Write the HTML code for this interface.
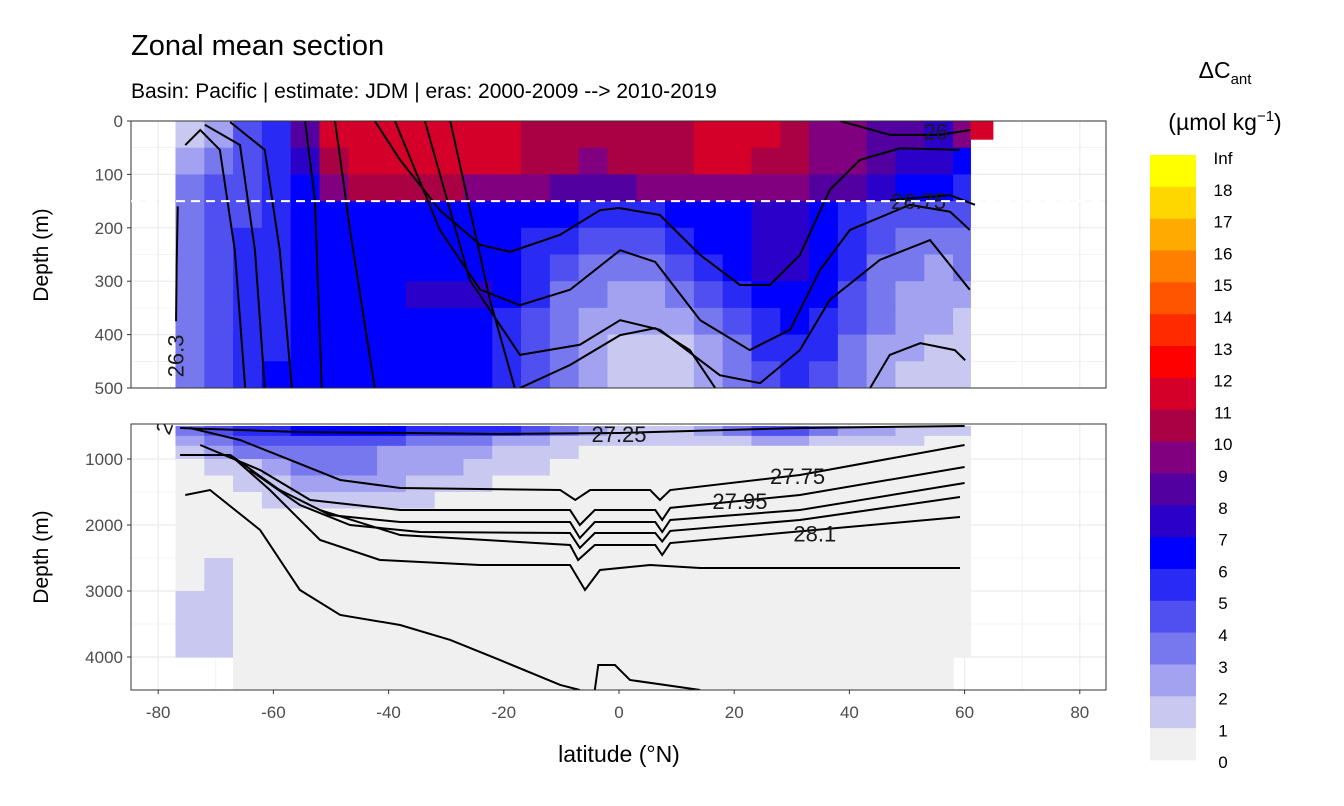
<!DOCTYPE html>
<html><head><meta charset="utf-8"><style>
body{margin:0;background:#fff;}
svg{display:block;font-family:"Liberation Sans",sans-serif;}
</style></head><body>
<svg id="chart" width="1344" height="806">
<text x="131" y="55" font-size="29" fill="#000">Zonal mean section</text>
<text x="131" y="98" font-size="21" fill="#000">Basin: Pacific | estimate: JDM  | eras: 2000-2009 --&gt; 2010-2019</text>
<g id="top"></g>
<g id="bot"></g>
<g id="legend"></g>
<text x="48" y="255" font-size="21" text-anchor="middle" transform="rotate(-90 48 255)">Depth (m)</text>
<text x="48" y="557" font-size="21" text-anchor="middle" transform="rotate(-90 48 557)">Depth (m)</text>
<text x="619" y="762" font-size="23" text-anchor="middle">latitude (°N)</text>
<text x="1225" y="78" font-size="23" text-anchor="middle">ΔC<tspan font-size="15" dy="6">ant</tspan></text>
<text x="1225" y="130" font-size="23" text-anchor="middle">(µmol kg<tspan font-size="15" dy="-9">−1</tspan><tspan dy="9">)</tspan></text>
</svg>
<script>
const latEdges=[-77,-72,-67,-62,-57,-52,-47,-42,-37,-32,-27,-22,-17,-12,-7,-2,3,8,13,18,23,28,33,38,43,48,53,58,61];
const topDepthEdges=[0,50,100,150,200,250,300,350,400,450,500];
const botDepthEdges=[500,650,800,1000,1250,1500,1750,2000,2500,3000,3500,4000,4500];
const topField=[
[1,2,4,5,8,11,11,11,11,11,11,11,10,10,10,10,10,10,11,11,11,10,9,9,8,8,7,9],
[2,3,4,5,7,10,11,11,11,11,11,11,10,10,9,10,10,10,11,11,10,10,9,9,8,7,7,6],
[3,4,4,5,6,9,10,10,10,10,9,9,9,8,8,8,9,9,9,9,9,9,8,8,7,6,6,5],
[3,4,4,5,6,6,6,6,6,6,6,6,6,6,5,5,5,6,6,6,7,7,6,5,4,4,4,4],
[3,4,5,5,6,6,6,6,6,6,6,6,5,5,4,4,4,5,6,6,7,7,6,5,4,3,3,3],
[3,4,5,5,6,6,6,6,6,6,6,6,5,4,3,3,3,4,5,6,7,7,6,5,3,3,2,3],
[3,4,5,5,6,6,6,6,7,7,7,6,5,3,3,2,2,3,4,5,6,6,6,4,3,2,2,2],
[3,4,5,5,6,6,6,6,6,6,6,5,4,3,2,2,2,2,3,4,5,6,5,4,3,2,2,1],
[3,4,5,5,6,6,6,6,6,6,6,5,4,3,2,1,1,1,2,3,5,5,5,3,2,2,1,1],
[3,4,5,6,6,6,6,6,6,6,6,5,4,3,2,1,1,1,2,3,4,5,4,3,2,1,1,1]];
const botField=[
[3,4,5,5,6,6,6,6,5,5,5,5,4,3,2,1,1,1,2,3,4,4,3,2,2,1,1,1],
[2,3,4,4,4,4,4,4,3,3,3,2,2,1,1,1,1,1,1,1,2,2,1,1,1,1,0,0],
[1,2,3,3,3,3,3,2,2,2,2,1,1,1,0,0,0,0,0,0,0,0,0,0,0,0,0,0],
[0,1,1,2,3,3,3,2,2,2,1,1,1,0,0,0,0,0,0,0,0,0,0,0,0,0,0,0],
[0,0,1,1,2,2,2,2,1,1,1,0,0,0,0,0,0,0,0,0,0,0,0,0,0,0,0,0],
[0,0,0,1,1,1,1,1,1,0,0,0,0,0,0,0,0,0,0,0,0,0,0,0,0,0,0,0],
[0,0,0,0,0,0,0,0,0,0,0,0,0,0,0,0,0,0,0,0,0,0,0,0,0,0,0,0],
[0,0,0,0,0,0,0,0,0,0,0,0,0,0,0,0,0,0,0,0,0,0,0,0,0,0,0,0],
[0,1,0,0,0,0,0,0,0,0,0,0,0,0,0,0,0,0,0,0,0,0,0,0,0,0,0,0],
[1,1,0,0,0,0,0,0,0,0,0,0,0,0,0,0,0,0,0,0,0,0,0,0,0,0,0,0],
[1,1,0,0,0,0,0,0,0,0,0,0,0,0,0,0,0,0,0,0,0,0,0,0,0,0,0,0],
[null,null,0,0,0,0,0,0,0,0,0,0,0,0,0,0,0,0,0,0,0,0,0,0,0,0,0,null]];
const binColors=["#f0f0f0","#c8c8f0","#a2a2f0","#7878ee","#5050f0","#2a2af5","#0000ff","#2b00c8","#5200a0","#800080","#aa0044","#d4002a","#ff0000","#ff2a00","#ff5500","#ff8000","#ffaa00","#ffd700","#ffff00"];
const legendLabels=["Inf","18","17","16","15","14","13","12","11","10","9","8","7","6","5","4","3","2","1","0"];
const xTicks=[-80,-60,-40,-20,0,20,40,60,80];
const topYTicks=[0,100,200,300,400,500];
const botYTicks=[1000,2000,3000,4000];
const topContours=[
[[-76.6,160],[-76.8,270],[-76.9,375]],
[[-75.3,45],[-72.7,17],[-69.3,54],[-66.7,242],[-64.9,500]],
[[-71.9,7],[-65.8,45],[-63.2,242],[-61.5,500]],
[[-67.5,2],[-61.5,54],[-58.9,242],[-56.8,500]],
[[-54.5,0],[-52.8,148],[-51.6,500]],
[[-49.3,0],[-46.7,204],[-42.4,500]],
[[-42.4,0],[-38,73],[-31.1,167],[-24.1,232],[-18.9,245],[-10.2,213],[-3.3,167],[0,163],[7.1,176],[14.1,251],[21,307],[26.2,307],[31.4,251],[36.6,129],[41.8,73],[48.8,51],[59.2,54]],
[[-38.9,0],[-31.1,204],[-24.1,316],[-17.2,345],[-8.5,316],[0.2,242],[6.3,264],[14.1,373],[22.7,429],[29.7,391],[34.9,279],[40.1,204],[50.5,157],[57.5,170],[60.9,204]],
[[-33.7,0],[-25.9,298],[-17.2,438],[-6.8,419],[0.2,373],[7.1,391],[17.5,476],[24.5,491],[31.4,429],[36.6,335],[45.3,260],[54,223],[60.9,316]],
[[-29.3,0],[-22.4,335],[-18.1,500]],
[[-17.2,500],[-8.5,457],[0.2,401],[6.3,388],[12.3,429],[16.7,500]],
[[43.6,500],[47,438],[52.3,416],[58.3,429],[60.1,448]],
[[38.4,0],[47,26],[55.7,26],[64.4,11]],
[[47,148],[57.5,139],[61.8,157]]];
const botContours=[
[[-76.2,530],[-55.4,591],[-20.7,621],[0,606],[31.4,530],[60,500]],
[[-74.5,530],[-65.8,712],[-57.1,1015],[-48.4,1318],[-38,1439],[-10.2,1470],[-7.6,1621],[-5,1470],[5.4,1470],[7.1,1621],[8.9,1470],[31.4,1242],[60,788]],
[[-72.7,788],[-62.3,1167],[-53.6,1621],[-38,1773],[-8.5,1773],[-6.8,2000],[-4.2,1773],[6.3,1773],[7.5,1924],[8.9,1740],[31.4,1545],[60,1121]],
[[-67.5,939],[-58.9,1470],[-50.2,1848],[-38,1955],[-8.5,1955],[-6.8,2197],[-4.2,1955],[6.3,1955],[7.5,2106],[8.9,1924],[31.4,1773],[60,1364]],
[[-64.1,1167],[-55.4,1697],[-46.7,2000],[-34.5,2106],[-8.5,2121],[-6.8,2348],[-4.2,2121],[6.3,2121],[7.5,2250],[8.9,2090],[31.4,1924],[59.2,1576]],
[[-51.9,1773],[-38,2152],[-8.5,2303],[-7.1,2530],[-4.2,2303],[6.3,2303],[7.5,2455],[8.9,2273],[59.2,1879]],
[[-76.2,939],[-67.5,939],[-60.6,1470],[-51.9,2227],[-41.5,2530],[-24.1,2606],[-8.5,2606],[-5.9,2985],[-3.3,2682],[5.4,2606],[14.1,2652],[59.2,2652]],
[[-75.3,1545],[-71,1470],[-62.3,2076],[-55.4,2985],[-48.4,3363],[-38,3515],[-29.3,3742],[-20.7,4045],[-10.2,4424],[-6.8,4500]],
[[-4.2,4500],[-3.6,4121],[-0.7,4121],[1.9,4348],[14.1,4500]]];
const contourLabels=[["26",55,20,"top",0],["26.75",52,150,"top",0],["26.3",-77,440,"top",-90],["27.25",0,620,"bot",0],["27.75",31,1260,"bot",0],["27.95",21,1640,"bot",0],["28.1",34,2130,"bot",0],["2",-79,520,"bot",-70]];

const NS="http://www.w3.org/2000/svg";
const X0=131,X1=1106;
const xS=v=>619+v*5.76;
const panels={top:{y0:121,y1:388},bot:{y0:424,y1:690}};
const yTop=d=>121+d*0.534;
const yBot=d=>459+(d-1000)*0.066;
function mk(parent,tag,attrs){const e=document.createElementNS(NS,tag);for(const k in attrs)e.setAttribute(k,attrs[k]);parent.appendChild(e);return e;}

function drawPanel(gid,P,yS,edges,field,contours,yTicks,minorTicks,clipId){
  const g=document.getElementById(gid);
  const bg=mk(g,"rect",{x:X0,y:P.y0,width:X1-X0,height:P.y1-P.y0,fill:"#fff"});
  
  
  const defs=mk(g,"defs",{});
  const cp=mk(defs,"clipPath",{id:clipId});
  mk(cp,"rect",{x:X0,y:P.y0,width:X1-X0,height:P.y1-P.y0});
  for(let v=-80;v<=80;v+=10){const l=mk(g,"line",{x1:xS(v),x2:xS(v),y1:P.y0,y2:P.y1,stroke:"#ebebeb","stroke-width":v%20===0?1.2:0.6});
    }
  minorTicks.forEach(t=>{const l=mk(g,"line",{x1:X0,x2:X1,y1:yS(t),y2:yS(t),stroke:"#ebebeb","stroke-width":0.6});
    });
  yTicks.forEach(t=>{const l=mk(g,"line",{x1:X0,x2:X1,y1:yS(t),y2:yS(t),stroke:"#ebebeb","stroke-width":1.2});
    });
  const cg=mk(g,"g",{"clip-path":"url(#"+clipId+")"});
  field.forEach((row,r)=>row.forEach((v,c)=>{
    if(v===null)return;
    const x=xS(latEdges[c]),w=xS(latEdges[c+1])-x,y=yS(edges[r]),h=yS(edges[r+1])-y;
    const cell=mk(cg,"rect",{x:x,y:y,width:w+0.6,height:h+0.6,fill:binColors[Math.min(18,v)]});
    
    
  }));
  contours.forEach(c=>{
    const p=mk(cg,"polyline",{points:c.map(q=>xS(q[0])+","+yS(q[1])).join(" "),fill:"none",stroke:"#000","stroke-width":2});
    
    
  });
  const br=mk(g,"rect",{x:X0,y:P.y0,width:X1-X0,height:P.y1-P.y0,fill:"none",stroke:"#333","stroke-width":1});
  
  yTicks.forEach(t=>{
    const tk=mk(g,"line",{x1:X0-4,x2:X0,y1:yS(t),y2:yS(t),stroke:"#333"});
    
    const tx=mk(g,"text",{x:X0-8,y:yS(t)+6,"font-size":17,"text-anchor":"end",fill:"#4d4d4d"});tx.textContent=t;
    
  });
  return cg;
}
const cgTop=drawPanel("top",panels.top,yTop,topDepthEdges,topField,topContours,topYTicks,[50,150,250,350,450],"cpTop");
const cgBot=drawPanel("bot",panels.bot,yBot,botDepthEdges,botField,botContours,botYTicks,[1500,2500,3500],"cpBot");
const strip=mk(cgTop,"rect",{x:xS(61),y:yTop(0),width:xS(65)-xS(61),height:yTop(35)-yTop(0),fill:binColors[11]});

const dash=mk(document.getElementById("top"),"line",{x1:X0,x2:X1,y1:yTop(150),y2:yTop(150),stroke:"#fff","stroke-width":2,"stroke-dasharray":"9,6"});

contourLabels.forEach(L=>{
  const yy=L[3]==="top"?yTop(L[2]):yBot(L[2]);const xx=xS(L[1]);
  const t=mk(L[3]==="top"?cgTop:cgBot,"text",{x:xx,y:yy+8,"font-size":22,"text-anchor":"middle",fill:"#1a1a1a",transform:"rotate("+L[4]+" "+xx+" "+yy+")"});
  t.textContent=L[0];
  
});
const svg=document.getElementById("chart");
xTicks.forEach(t=>{
  const tk=mk(svg,"line",{x1:xS(t),x2:xS(t),y1:690,y2:694,stroke:"#333"});
  
  const tx=mk(svg,"text",{x:xS(t),y:718,"font-size":17,"text-anchor":"middle",fill:"#4d4d4d"});tx.textContent=t;
  
});
const lg=document.getElementById("legend");
const boxH=(760-155)/19;
binColors.slice().reverse().forEach((c,i)=>{
  const r=mk(lg,"rect",{x:1150,y:155+i*boxH,width:46,height:boxH+0.5,fill:c});
  
});
legendLabels.forEach((s,i)=>{
  const t=mk(lg,"text",{x:1223,y:164+i*31.8,"font-size":17,"text-anchor":"middle",fill:"#000"});t.textContent=s;
  
});
</script>
</body></html>
